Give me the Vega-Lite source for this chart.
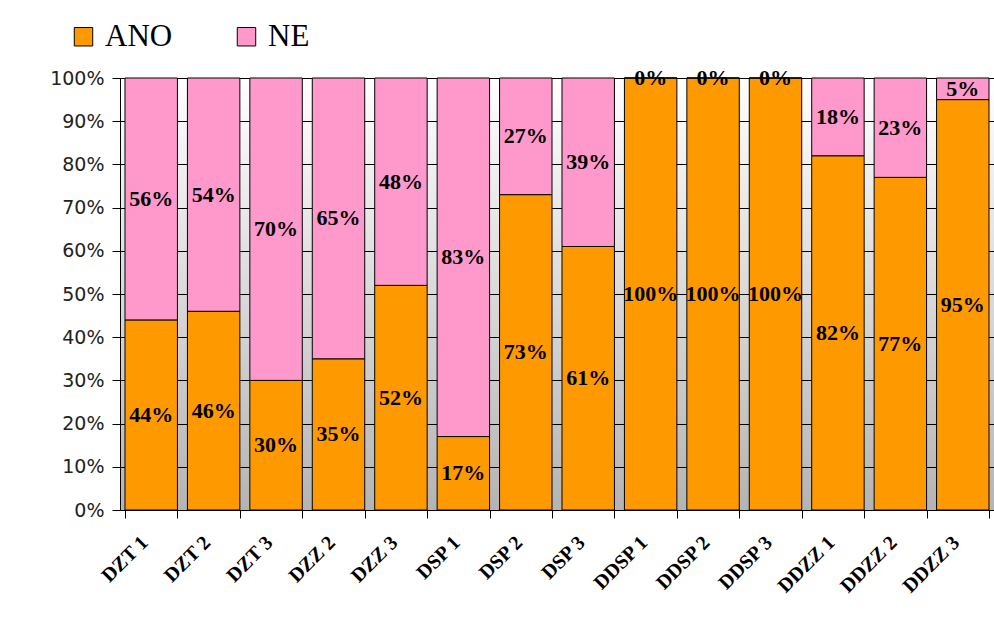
{
  "$schema": "https://vega.github.io/schema/vega-lite/v6.json",
  "autosize": {"type": "none"},
  "padding": {"left": 120, "top": 78, "right": 0, "bottom": 113},
  "width": 874,
  "height": 432,
  "background": "#ffffff",
  "config": {
    "view": {"stroke": null, "fill": {"expr": "{gradient: 'linear', x1: 0, y1: 0, x2: 0, y2: 1, stops: [{offset: 0, color: '#ffffff'}, {offset: 1, color: '#b4b4b4'}]}"}},
    "font": "Liberation Serif",
    "axisY": {"grid": true, "gridColor": "#000000", "gridOpacity": 1, "gridWidth": 1}
  },
  "data": {
    "values": [
      {"group": "DZT 1", "answer": "ANO", "value": 44}, {"group": "DZT 1", "answer": "NE", "value": 56},
      {"group": "DZT 2", "answer": "ANO", "value": 46}, {"group": "DZT 2", "answer": "NE", "value": 54},
      {"group": "DZT 3", "answer": "ANO", "value": 30}, {"group": "DZT 3", "answer": "NE", "value": 70},
      {"group": "DZZ 2", "answer": "ANO", "value": 35}, {"group": "DZZ 2", "answer": "NE", "value": 65},
      {"group": "DZZ 3", "answer": "ANO", "value": 52}, {"group": "DZZ 3", "answer": "NE", "value": 48},
      {"group": "DSP 1", "answer": "ANO", "value": 17}, {"group": "DSP 1", "answer": "NE", "value": 83},
      {"group": "DSP 2", "answer": "ANO", "value": 73}, {"group": "DSP 2", "answer": "NE", "value": 27},
      {"group": "DSP 3", "answer": "ANO", "value": 61}, {"group": "DSP 3", "answer": "NE", "value": 39},
      {"group": "DDSP 1", "answer": "ANO", "value": 100}, {"group": "DDSP 1", "answer": "NE", "value": 0},
      {"group": "DDSP 2", "answer": "ANO", "value": 100}, {"group": "DDSP 2", "answer": "NE", "value": 0},
      {"group": "DDSP 3", "answer": "ANO", "value": 100}, {"group": "DDSP 3", "answer": "NE", "value": 0},
      {"group": "DDZZ 1", "answer": "ANO", "value": 82}, {"group": "DDZZ 1", "answer": "NE", "value": 18},
      {"group": "DDZZ 2", "answer": "ANO", "value": 77}, {"group": "DDZZ 2", "answer": "NE", "value": 23},
      {"group": "DDZZ 3", "answer": "ANO", "value": 95}, {"group": "DDZZ 3", "answer": "NE", "value": 5}
    ]
  },
  "encoding": {
    "x": {
      "field": "group", "type": "nominal", "sort": null,
      "scale": {"paddingInner": 0.16, "paddingOuter": 0.08},
      "axis": {
        "title": null, "labelAngle": -45, "tickBand": "extent",
        "domainColor": "#000000", "tickColor": "#000000", "tickSize": 8,
        "labelFont": "Liberation Serif", "labelFontWeight": "bold", "labelFontSize": 20,
        "labelColor": "#000000", "labelPadding": 14, "labelOffset": -14
      }
    },
    "y": {
      "field": "value", "type": "quantitative", "stack": "zero",
      "scale": {"domain": [0, 100], "nice": false},
      "axis": {
        "title": null, "values": [0, 10, 20, 30, 40, 50, 60, 70, 80, 90, 100],
        "labelExpr": "datum.value + '%'",
        "grid": true, "gridColor": "#000000", "gridOpacity": 1, "gridWidth": 1,
        "domainColor": "#000000", "tickColor": "#000000", "tickSize": 8,
        "labelFont": "DejaVu Sans", "labelFontSize": 19, "labelColor": "#222222", "labelPadding": 8
      }
    },
    "order": {"field": "answer", "type": "nominal", "sort": "ascending"}
  },
  "layer": [
    {
      "mark": {"type": "bar", "stroke": "#000000", "strokeWidth": 1},
      "encoding": {
        "color": {
          "field": "answer", "type": "nominal",
          "scale": {"domain": ["ANO", "NE"], "range": ["#ff9900", "#ff99cc"]},
          "legend": {
            "title": null, "orient": "none", "direction": "horizontal",
            "legendX": -52, "legendY": -57,
            "symbolType": "square", "symbolSize": 340, "symbolStrokeColor": "#000000", "symbolStrokeWidth": 1,
            "labelFont": "Liberation Serif", "labelFontSize": 31, "labelColor": "#000000",
            "columnPadding": 58, "labelOffset": 6
          }
        }
      }
    },
    {
      "mark": {"type": "text", "font": "Liberation Serif", "fontWeight": "bold", "fontSize": 22, "color": "#000000", "text": {"expr": "datum.value + '%'"}},
      "encoding": {
        "y": {"field": "value", "type": "quantitative", "stack": "zero", "bandPosition": 0.5}
      }
    }
  ]
}
